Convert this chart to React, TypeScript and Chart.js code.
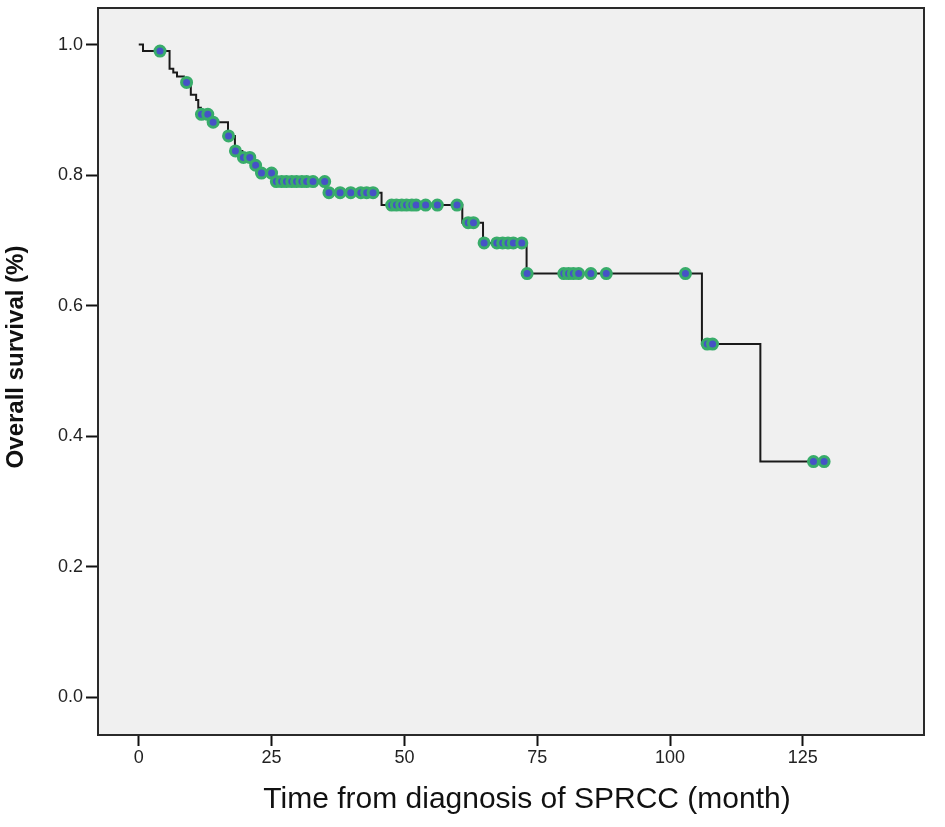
import React, { useEffect, useRef } from 'react';
import { Chart, registerables } from 'chart.js';

Chart.register(...registerables);

// Kaplan-Meier estimate: time (months) at which survival drops, and the new level
const eventTimes = [0, 0.8, 5.8, 6.5, 7.2, 8.5, 9.8, 10.8, 11.2, 11.7, 13.5, 16.8, 18.1, 19.5, 21.8, 22.8, 25.5, 35.2, 45.7, 60.9, 64.8, 73.0, 106.0, 117.0];
const survival = [1.0, 0.99, 0.963, 0.957, 0.951, 0.942, 0.923, 0.915, 0.903, 0.893, 0.881, 0.86, 0.837, 0.827, 0.815, 0.803, 0.79, 0.773, 0.754, 0.727, 0.696, 0.649, 0.541, 0.361];

// censored observations (months)
const censorTimes = [
    4.0, 9.0, 11.8, 13.0, 14.0, 16.9, 18.2, 19.7, 20.9, 22.0, 23.1, 25.0,
    25.9, 26.9, 27.8, 28.8, 29.7, 30.7, 31.6, 32.8, 35.0,
    35.8, 37.9, 39.9, 41.8, 42.9, 44.1,
    47.6, 48.5, 49.5, 50.4, 51.4, 52.2, 54.0, 56.2, 59.9,
    62.0, 63.0, 65.0, 67.4, 68.5, 69.5, 70.5, 72.1,
    73.1, 80.0, 80.9, 81.8, 82.8, 85.1, 88.0, 102.9,
    107.0, 108.0, 127.0, 129.0,
];

const xTicks = [0, 25, 50, 75, 100, 125];
const yTicks = [0, 0.2, 0.4, 0.6, 0.8, 1.0];

const xTitle = 'Time from diagnosis of SPRCC (month)';
const yTitle = 'Overall survival (%)';

const FONT = '"Liberation Sans", Arial, sans-serif';

// survival level in force at time t
const levelAt = (t: number) => {
    let s = survival[0];
    for (let i = 0; i < eventTimes.length; i++) {
        if (eventTimes[i] <= t) s = survival[i];
    }
    return s;
};

const plotFrame = {
    id: 'plotFrame',
    beforeDraw(chart: any) {
        const { ctx, chartArea: a } = chart;
        ctx.save();
        ctx.fillStyle = '#f0f0f0';
        ctx.fillRect(a.left, a.top, a.right - a.left, a.bottom - a.top);
        ctx.restore();
    },
    beforeDatasetsDraw(chart: any) {
        const { ctx, chartArea: a } = chart;
        ctx.save();
        ctx.strokeStyle = '#2a2a2a';
        ctx.lineWidth = 2;
        ctx.strokeRect(a.left, a.top, a.right - a.left, a.bottom - a.top);
        ctx.restore();
    },
    afterDraw(chart: any) {
        const { ctx } = chart;
        ctx.save();
        ctx.fillStyle = '#111';
        ctx.textAlign = 'center';
        ctx.textBaseline = 'middle';
        ctx.font = `30px ${FONT}`;
        ctx.fillText(xTitle, 527, 800);
        ctx.translate(16, 357);
        ctx.rotate(-Math.PI / 2);
        ctx.font = `bold 24px ${FONT}`;
        ctx.fillText(yTitle, 0, 0);
        ctx.restore();
    },
};

const SurvivalChart: React.FC = () => {
    const chartRef = useRef<HTMLCanvasElement>(null);

    useEffect(() => {
        document.body.style.margin = '0';
        const ctx = chartRef.current?.getContext('2d');
        if (!ctx) return;

        const lastT = censorTimes[censorTimes.length - 1];
        const curve = eventTimes.map((t, i) => ({ x: t, y: survival[i] }));
        curve.push({ x: lastT, y: levelAt(lastT) });
        const censored = censorTimes.map((t) => ({ x: t, y: levelAt(t) }));

        const chart = new Chart(ctx, {
            type: 'scatter',
            data: {
                datasets: [
                    {
                        label: 'Censored',
                        data: censored,
                        order: 0,
                        showLine: false,
                        pointRadius: 5,
                        pointBorderWidth: 3,
                        backgroundColor: '#4652c6',
                        borderColor: '#38ac6a',
                    },
                    {
                        label: 'Survival',
                        data: curve,
                        order: 1,
                        showLine: true,
                        stepped: true,
                        pointRadius: 0,
                        borderColor: '#1a1a1a',
                        borderWidth: 2,
                    },
                ],
            },
            options: {
                animation: false,
                responsive: true,
                maintainAspectRatio: false,
                layout: { padding: { top: 7, right: 21, left: 0, bottom: 0 } },
                plugins: {
                    legend: { display: false },
                    tooltip: { enabled: false },
                },
                scales: {
                    x: {
                        type: 'linear',
                        min: -7.67,
                        max: 147.8,
                        afterBuildTicks: (scale: any) => {
                            scale.ticks = xTicks.map((v) => ({ value: v }));
                        },
                        afterFit: (scale: any) => {
                            scale.height = 92;
                            scale.paddingLeft = 0;
                            scale.paddingRight = 0;
                        },
                        grid: { drawOnChartArea: false, tickLength: 11, tickColor: '#111', tickWidth: 2 },
                        border: { display: false },
                        ticks: {
                            padding: 1,
                            color: '#222',
                            font: { family: FONT, size: 18 },
                            maxRotation: 0,
                            callback: (v: any) => String(v),
                        },
                    },
                    y: {
                        type: 'linear',
                        min: -0.058,
                        max: 1.056,
                        afterBuildTicks: (scale: any) => {
                            scale.ticks = yTicks.map((v) => ({ value: v }));
                        },
                        afterFit: (scale: any) => {
                            scale.width = 98;
                            scale.paddingTop = 0;
                            scale.paddingBottom = 0;
                        },
                        grid: { drawOnChartArea: false, tickLength: 12, tickColor: '#111', tickWidth: 2 },
                        border: { display: false },
                        ticks: {
                            padding: 3,
                            color: '#222',
                            font: { family: FONT, size: 18 },
                            callback: (v: any) => Number(v).toFixed(1),
                        },
                    },
                },
            },
            plugins: [plotFrame],
        });
        return () => chart.destroy();
    }, []);

    return (
        <div style={{ width: 945, height: 827, position: 'relative', background: '#fff' }}>
            <canvas ref={chartRef}></canvas>
        </div>
    );
};

export default function App() {
    return <SurvivalChart />;
}
